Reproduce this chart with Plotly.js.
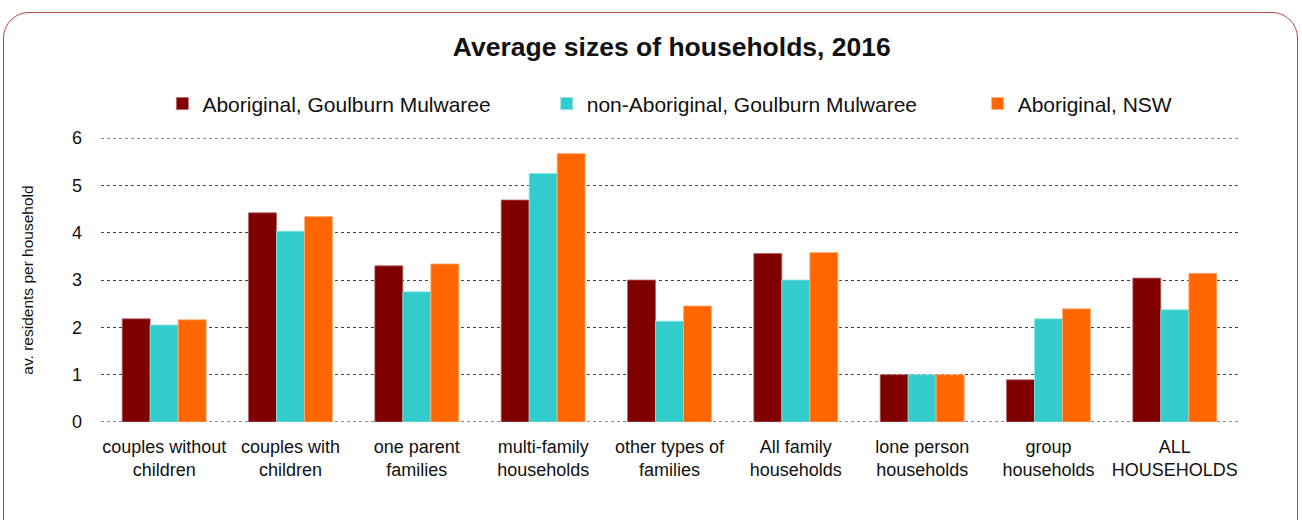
<!DOCTYPE html>
<html>
<head>
<meta charset="utf-8">
<script src="https://cdn.plot.ly/plotly-3.0.1.min.js"></script>
<style>
  html, body { margin: 0; padding: 0; background: #fff; }
  #wrap { position: relative; width: 1302px; height: 520px; overflow: hidden; }
  #frame { position: absolute; left: 3px; top: 12px; width: 1295px; height: 560px;
           border: 1px solid #b5484b; border-radius: 26px; box-sizing: border-box; }
  #chart { position: absolute; left: 0; top: 0; width: 1302px; height: 520px; }
</style>
</head>
<body>
<div id="wrap">
  <div id="frame"></div>
  <div id="chart"></div>
</div>
<script>
const categories = [
  "couples without<br>children", "couples with<br>children", "one parent<br>families",
  "multi-family<br>households", "other types of<br>families", "All family<br>households",
  "lone person<br>households", "group<br>households", "ALL<br>HOUSEHOLDS"
];
const seriesNames = ["Aboriginal, Goulburn Mulwaree", "non-Aboriginal, Goulburn Mulwaree", "Aboriginal, NSW"];
const aboriginalGM    = [2.18, 4.42, 3.30, 4.69, 3.00, 3.56, 1.00, 0.89, 3.04];
const nonAboriginalGM = [2.05, 4.03, 2.75, 5.25, 2.13, 3.00, 1.00, 2.18, 2.37];
const aboriginalNSW   = [2.16, 4.34, 3.34, 5.67, 2.45, 3.58, 1.00, 2.39, 3.14];
const yRange = [0, 6];
const colors = ["#800000", "#33CCCC", "#FF6600"];
const outlines = ["#b86a6a", "#8fe3e3", "#ffae7a"];

const allValues = [aboriginalGM, nonAboriginalGM, aboriginalNSW];
const legendIds = ["legend", "legend2", "legend3"];
const traces = allValues.map((vals, i) => ({
  type: "bar",
  x: categories,
  y: vals,
  name: seriesNames[i],
  legend: legendIds[i],
  marker: { color: colors[i], line: { color: outlines[i], width: 0.8 } },
  hoverinfo: "x+y+name"
}));

const fam = "Liberation Sans, Arial, sans-serif";
const legendBase = {
  orientation: "h", yanchor: "middle", y: 1.12, xanchor: "left",
  font: { family: fam, size: 21, color: "#111" },
  bgcolor: "rgba(0,0,0,0)", itemwidth: 30
};

// dotted gridlines at the range ends (Plotly clips grid lines on the plot edges)
const edgeLines = yRange.map(v => ({
  type: "line", xref: "paper", yref: "y", x0: 0, x1: 1, y0: v, y1: v,
  line: { color: "#111", width: 1, dash: "dot" }, layer: "below"
}));

const layout = {
  width: 1302, height: 520,
  margin: { l: 101, r: 64, t: 138, b: 98 },
  paper_bgcolor: "rgba(0,0,0,0)",
  plot_bgcolor: "rgba(0,0,0,0)",
  font: { family: fam, color: "#111" },
  title: {
    text: "<b>Average sizes of households, 2016</b>",
    font: { family: fam, size: 26.5, color: "#111" },
    x: 0.516, xanchor: "center", y: 0.91, yanchor: "middle"
  },
  barmode: "group",
  bargap: 0.335,
  bargroupgap: 0,
  xaxis: {
    type: "category",
    tickfont: { family: fam, size: 18, color: "#111" },
    showgrid: false, showline: false, ticks: "", ticklabelstandoff: 12
  },
  yaxis: {
    range: yRange, dtick: 1, tick0: 0,
    tickfont: { family: fam, size: 18, color: "#111" },
    showgrid: true, gridcolor: "#444", griddash: "dot", gridwidth: 1,
    zeroline: false, showline: false, ticks: "", ticklabelstandoff: 18,
    title: { text: "av. residents per household", font: { family: fam, size: 15.5, color: "#111" }, standoff: 34 }
  },
  shapes: edgeLines,
  legend: Object.assign({}, legendBase, { x: 0.054 }),
  legend2: Object.assign({}, legendBase, { x: 0.392 }),
  legend3: Object.assign({}, legendBase, { x: 0.771 }),
  showlegend: true
};

Plotly.newPlot("chart", traces, layout, { displayModeBar: false, staticPlot: true });
</script>
</body>
</html>
